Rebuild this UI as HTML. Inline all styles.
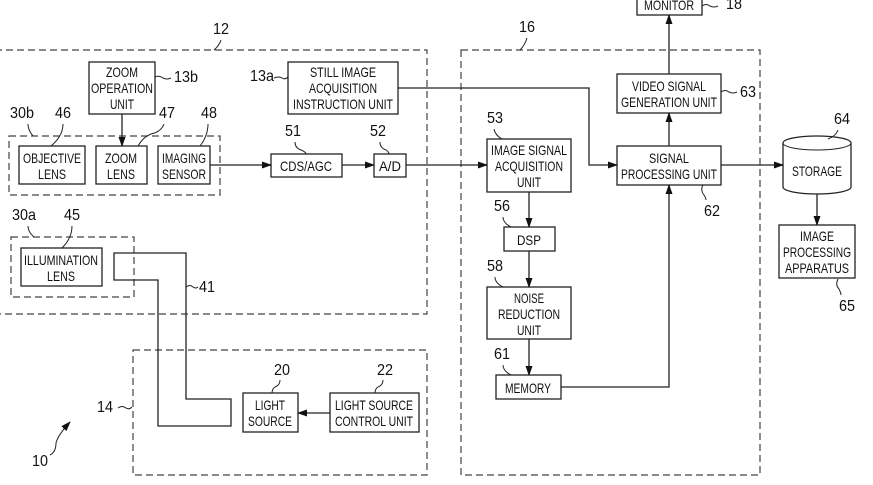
<!DOCTYPE html>
<html><head><meta charset="utf-8"><style>
html,body{margin:0;padding:0;background:#fff}
svg{display:block}
text{font-family:"Liberation Sans Narrow","Liberation Sans",sans-serif;font-size:14px;fill:#111;text-anchor:middle}
.n{font-size:16px}
.b{fill:#fff;stroke:#222;stroke-width:1.3}
.d{fill:none;stroke:#444;stroke-width:1.2;stroke-dasharray:7,4}
.l{fill:none;stroke:#222;stroke-width:1.3}
.c{fill:none;stroke:#222;stroke-width:1}
</style></head><body>
<svg width="873" height="485" viewBox="0 0 873 485" xmlns="http://www.w3.org/2000/svg">
<defs><marker id="a" markerWidth="10" markerHeight="8" refX="9" refY="4" orient="auto" markerUnits="userSpaceOnUse"><path d="M0,0.5 L10,4 L0,7.5Z" fill="#111"/></marker></defs>

<rect class="d" x="-5" y="50" width="432" height="264"/>
<rect class="d" x="9" y="136" width="211" height="59"/>
<rect class="d" x="11" y="237" width="123" height="60"/>
<rect class="d" x="133" y="350" width="294" height="125"/>
<rect class="d" x="461" y="50" width="299" height="425"/>

<path class="l" d="M114,253 H186 V399 H231 V426 H158 V280 H114 Z"/>

<rect class="b" x="89" y="62" width="66" height="52"/>
<text x="122" y="77" textLength="32" lengthAdjust="spacingAndGlyphs">ZOOM</text>
<text x="122" y="93" textLength="62" lengthAdjust="spacingAndGlyphs">OPERATION</text>
<text x="122" y="109" textLength="24" lengthAdjust="spacingAndGlyphs">UNIT</text>

<rect class="b" x="288" y="62" width="110" height="52"/>
<text x="343" y="77" textLength="66" lengthAdjust="spacingAndGlyphs">STILL IMAGE</text>
<text x="343" y="93" textLength="68" lengthAdjust="spacingAndGlyphs">ACQUISITION</text>
<text x="343" y="109" textLength="100" lengthAdjust="spacingAndGlyphs">INSTRUCTION UNIT</text>

<rect class="b" x="19" y="146" width="66" height="38"/>
<text x="52" y="163" textLength="58" lengthAdjust="spacingAndGlyphs">OBJECTIVE</text>
<text x="52" y="179" textLength="28" lengthAdjust="spacingAndGlyphs">LENS</text>
<rect class="b" x="96" y="146" width="51" height="38"/>
<text x="121" y="163" textLength="32" lengthAdjust="spacingAndGlyphs">ZOOM</text>
<text x="121" y="179" textLength="28" lengthAdjust="spacingAndGlyphs">LENS</text>
<rect class="b" x="158" y="146" width="52" height="38"/>
<text x="184" y="163" textLength="44" lengthAdjust="spacingAndGlyphs">IMAGING</text>
<text x="184" y="179" textLength="44" lengthAdjust="spacingAndGlyphs">SENSOR</text>

<rect class="b" x="271" y="154" width="71" height="23"/>
<text x="306" y="171" textLength="52" lengthAdjust="spacingAndGlyphs">CDS/AGC</text>
<rect class="b" x="374" y="154" width="32" height="23"/>
<text x="390" y="171" textLength="22" lengthAdjust="spacingAndGlyphs">A/D</text>

<rect class="b" x="21" y="248" width="81" height="38"/>
<text x="61" y="265" textLength="74" lengthAdjust="spacingAndGlyphs">ILLUMINATION</text>
<text x="61" y="281" textLength="28" lengthAdjust="spacingAndGlyphs">LENS</text>

<rect class="b" x="243" y="393" width="55" height="39"/>
<text x="270" y="410" textLength="30" lengthAdjust="spacingAndGlyphs">LIGHT</text>
<text x="270" y="426" textLength="44" lengthAdjust="spacingAndGlyphs">SOURCE</text>
<rect class="b" x="330" y="393" width="89" height="39"/>
<text x="374" y="410" textLength="78" lengthAdjust="spacingAndGlyphs">LIGHT SOURCE</text>
<text x="374" y="426" textLength="78" lengthAdjust="spacingAndGlyphs">CONTROL UNIT</text>

<rect class="b" x="637" y="-10" width="65" height="25"/>
<text x="669" y="10" textLength="50" lengthAdjust="spacingAndGlyphs">MONITOR</text>
<rect class="b" x="617" y="74" width="104" height="39"/>
<text x="669" y="91" textLength="74" lengthAdjust="spacingAndGlyphs">VIDEO SIGNAL</text>
<text x="669" y="107" textLength="96" lengthAdjust="spacingAndGlyphs">GENERATION UNIT</text>
<rect class="b" x="617" y="146" width="104" height="39"/>
<text x="669" y="163" textLength="40" lengthAdjust="spacingAndGlyphs">SIGNAL</text>
<text x="669" y="179" textLength="96" lengthAdjust="spacingAndGlyphs">PROCESSING UNIT</text>

<rect class="b" x="487" y="139" width="84" height="53"/>
<text x="529" y="155" textLength="76" lengthAdjust="spacingAndGlyphs">IMAGE SIGNAL</text>
<text x="529" y="171" textLength="68" lengthAdjust="spacingAndGlyphs">ACQUISITION</text>
<text x="529" y="187" textLength="24" lengthAdjust="spacingAndGlyphs">UNIT</text>
<rect class="b" x="504" y="227" width="51" height="24"/>
<text x="529" y="245" textLength="24" lengthAdjust="spacingAndGlyphs">DSP</text>
<rect class="b" x="487" y="287" width="84" height="52"/>
<text x="529" y="303" textLength="30" lengthAdjust="spacingAndGlyphs">NOISE</text>
<text x="529" y="319" textLength="62" lengthAdjust="spacingAndGlyphs">REDUCTION</text>
<text x="529" y="335" textLength="24" lengthAdjust="spacingAndGlyphs">UNIT</text>
<rect class="b" x="496" y="375" width="65" height="24"/>
<text x="528" y="393" textLength="46" lengthAdjust="spacingAndGlyphs">MEMORY</text>

<path class="b" d="M783,143 V187 A34,7 0 0 0 851,187 V143 A34,7 0 0 0 783,143 Z"/>
<path class="c" d="M783,143 A34,7 0 0 0 851,143"/>
<text x="817" y="176" textLength="50" lengthAdjust="spacingAndGlyphs">STORAGE</text>
<rect class="b" x="779" y="225" width="76" height="53"/>
<text x="817" y="241" textLength="34" lengthAdjust="spacingAndGlyphs">IMAGE</text>
<text x="817" y="257" textLength="68" lengthAdjust="spacingAndGlyphs">PROCESSING</text>
<text x="817" y="273" textLength="64" lengthAdjust="spacingAndGlyphs">APPARATUS</text>

<line class="l" x1="122" y1="114" x2="122" y2="146" marker-end="url(#a)"/>
<line class="l" x1="210" y1="165" x2="271" y2="165" marker-end="url(#a)"/>
<line class="l" x1="342" y1="165" x2="374" y2="165" marker-end="url(#a)"/>
<line class="l" x1="406" y1="165" x2="487" y2="165" marker-end="url(#a)"/>
<path class="l" d="M398,88 H589 V165 H617" marker-end="url(#a)"/>
<line class="l" x1="529" y1="192" x2="529" y2="227" marker-end="url(#a)"/>
<line class="l" x1="529" y1="251" x2="529" y2="287" marker-end="url(#a)"/>
<line class="l" x1="529" y1="339" x2="529" y2="375" marker-end="url(#a)"/>
<path class="l" d="M561,387 H669 V185" marker-end="url(#a)"/>
<line class="l" x1="669" y1="146" x2="669" y2="113" marker-end="url(#a)"/>
<line class="l" x1="669" y1="74" x2="669" y2="15" marker-end="url(#a)"/>
<line class="l" x1="721" y1="165" x2="783" y2="165" marker-end="url(#a)"/>
<line class="l" x1="817" y1="194" x2="817" y2="225" marker-end="url(#a)"/>
<line class="l" x1="330" y1="413" x2="298" y2="413" marker-end="url(#a)"/>

<text class="n" x="221" y="34" textLength="16" lengthAdjust="spacingAndGlyphs">12</text><path class="c" d="M221,40 q-2,6 -7,10"/>
<text class="n" x="186" y="82" textLength="24" lengthAdjust="spacingAndGlyphs">13b</text><path class="c" d="M155,77 q4,-2 8,1 q4,2 8,0"/>
<text class="n" x="262" y="81" textLength="24" lengthAdjust="spacingAndGlyphs">13a</text><path class="c" d="M274,78 q5,-2 8,0 q3,2 6,-1"/>
<text class="n" x="22" y="118" textLength="24" lengthAdjust="spacingAndGlyphs">30b</text><path class="c" d="M28,124 q0,6 5,12"/>
<text class="n" x="63" y="118" textLength="16" lengthAdjust="spacingAndGlyphs">46</text><path class="c" d="M63,124 q0,12 -12,22"/>
<text class="n" x="167" y="118" textLength="16" lengthAdjust="spacingAndGlyphs">47</text><path class="c" d="M164,124 q-3,8 -13,10 q-8,3 -13,12"/>
<text class="n" x="209" y="118" textLength="16" lengthAdjust="spacingAndGlyphs">48</text><path class="c" d="M208,124 q0,12 -8,22"/>
<text class="n" x="293" y="136" textLength="16" lengthAdjust="spacingAndGlyphs">51</text><path class="c" d="M295,142 q0,6 6,8 q5,2 5,4"/>
<text class="n" x="378" y="136" textLength="16" lengthAdjust="spacingAndGlyphs">52</text><path class="c" d="M380,142 q0,6 6,8 q3,2 3,4"/>
<text class="n" x="24" y="220" textLength="24" lengthAdjust="spacingAndGlyphs">30a</text><path class="c" d="M28,226 q0,6 6,11"/>
<text class="n" x="72" y="220" textLength="16" lengthAdjust="spacingAndGlyphs">45</text><path class="c" d="M72,226 q0,12 -10,22"/>
<text class="n" x="207" y="292" textLength="16" lengthAdjust="spacingAndGlyphs">41</text><path class="c" d="M186,287 q4,-3 7,0 q3,2 5,0"/>
<text class="n" x="282" y="375" textLength="16" lengthAdjust="spacingAndGlyphs">20</text><path class="c" d="M280,380 q0,5 -5,7 q-3,2 -3,6"/>
<text class="n" x="385" y="375" textLength="16" lengthAdjust="spacingAndGlyphs">22</text><path class="c" d="M383,380 q0,5 -5,7 q-3,2 -3,6"/>
<text class="n" x="105" y="412" textLength="16" lengthAdjust="spacingAndGlyphs">14</text><path class="c" d="M118,408 q4,-3 8,0 q3,2 6,-1"/>
<text class="n" x="40" y="466" textLength="16" lengthAdjust="spacingAndGlyphs">10</text><path class="c" d="M50,455 q6,-3 6,-12 q2,-8 14,-21" marker-end="url(#a)"/>
<text class="n" x="527" y="32" textLength="16" lengthAdjust="spacingAndGlyphs">16</text><path class="c" d="M527,38 q-2,7 -7,12"/>
<text class="n" x="734" y="9" textLength="16" lengthAdjust="spacingAndGlyphs">18</text><path class="c" d="M702,6 q4,-3 8,0 q4,2 8,0"/>
<text class="n" x="748" y="97" textLength="16" lengthAdjust="spacingAndGlyphs">63</text><path class="c" d="M721,92 q4,-3 8,0 q4,2 8,0"/>
<text class="n" x="712" y="216" textLength="16" lengthAdjust="spacingAndGlyphs">62</text><path class="c" d="M703,185 q-3,5 1,10 q2,3 2,5"/>
<text class="n" x="495" y="123" textLength="16" lengthAdjust="spacingAndGlyphs">53</text><path class="c" d="M494,129 q1,6 8,10"/>
<text class="n" x="502" y="211" textLength="16" lengthAdjust="spacingAndGlyphs">56</text><path class="c" d="M503,217 q0,6 8,10"/>
<text class="n" x="495" y="271" textLength="16" lengthAdjust="spacingAndGlyphs">58</text><path class="c" d="M495,277 q0,6 8,10"/>
<text class="n" x="502" y="359" textLength="16" lengthAdjust="spacingAndGlyphs">61</text><path class="c" d="M503,365 q0,6 8,10"/>
<text class="n" x="842" y="124" textLength="16" lengthAdjust="spacingAndGlyphs">64</text><path class="c" d="M838,130 q-2,6 -10,9"/>
<text class="n" x="847" y="311" textLength="16" lengthAdjust="spacingAndGlyphs">65</text><path class="c" d="M838,279 q-3,6 1,10 q2,4 2,6"/>
</svg>
</body></html>
